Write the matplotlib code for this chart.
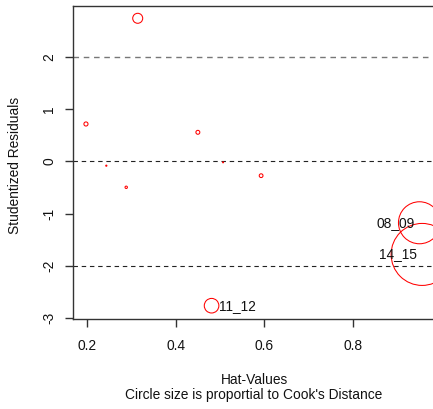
import matplotlib
matplotlib.use("Agg")
import matplotlib.pyplot as plt
import numpy as np

plt.rcParams['font.family'] = ['Liberation Sans', 'DejaVu Sans']

# Influence measures per observation
obs_labels = ["", "", "", "", "", "", "", "11_12", "08_09", "14_15"]
hat_values = [0.314, 0.197, 0.243, 0.288, 0.450, 0.593, 0.507, 0.481, 0.951, 0.957]
stud_resid = [2.733, 0.713, -0.084, -0.497, 0.554, -0.275, -0.020, -2.760, -1.175, -1.780]
cooks_dist = [0.0507, 0.0085, 0.0007, 0.0029, 0.0078, 0.0072, 0.0005, 0.108, 0.895, 1.95]

x_ticks = [0.2, 0.4, 0.6, 0.8]
y_ticks = [-3, -2, -1, 0, 1, 2]
ref_lines = [-2, 0, 2]

W, H, DPI = 433, 409, 100
fig = plt.figure(figsize=(W / DPI, H / DPI), dpi=DPI)

# plot region in pixels (right edge runs just past the figure)
left_px, right_px, top_px, bottom_px = 73, 436, 6, 319.3
ax = fig.add_axes([left_px / W, 1 - bottom_px / H,
                   (right_px - left_px) / W, (bottom_px - top_px) / H])
ax.set_xlim(0.1677, 0.9884)
ax.set_ylim(-3.02, 2.968)

for sp in ax.spines.values():
    sp.set_color('#333333')
    sp.set_linewidth(1.0)

# reference lines
for yv in ref_lines:
    col = '#777777' if yv == 2 else '#222222'
    lw = 1.0 if yv == 2 else 0.8
    ax.axhline(yv, color=col, lw=lw, dashes=(4, 3.4), zorder=1)

# circle area proportional to Cook's distance (radius ~ sqrt)
cooks = np.array(cooks_dist)
max_r_px = 31.0
radius_px = max_r_px * np.sqrt(cooks / cooks.max())
sizes = (2 * radius_px * 72 / DPI) ** 2
ax.scatter(hat_values, stud_resid, s=sizes, facecolors='none',
           edgecolors='#ff0000', linewidths=0.75, zorder=3, clip_on=True)

# point labels
for lab, hx, ry, r in zip(obs_labels, hat_values, stud_resid, radius_px):
    if not lab:
        continue
    if hx > 0.9:
        off = -5.0 if lab == "14_15" else -4.5
        ax.annotate(lab, (hx, ry), xytext=(off * 72 / DPI, 0),
                    textcoords='offset points', ha='right', va='center',
                    fontsize=9.9, color='#111111', zorder=4)
    else:
        ax.annotate(lab, (hx, ry), xytext=(7.3 * 72 / DPI, 0),
                    textcoords='offset points', ha='left', va='center',
                    fontsize=9.9, color='#111111', zorder=4)

ax.set_xticks(x_ticks)
ax.set_xticklabels([f"{v:.1f}" for v in x_ticks])
ax.set_yticks(y_ticks)
ax.set_yticklabels([str(v) for v in y_ticks], rotation=90, va='center')
ax.tick_params(axis='both', direction='out', length=5.6, width=1.0,
               color='#333333', labelsize=9.9, labelcolor='#111111')
ax.tick_params(axis='x', pad=8.6)
ax.tick_params(axis='y', pad=6.3)

fig.text(254.2 / W, 1 - 384.3 / H, "Hat-Values", ha='center', va='baseline',
         fontsize=9.9, color='#111111')
fig.text(253.8 / W, 1 - 399.5 / H, "Circle size is proportial to Cook's Distance",
         ha='center', va='baseline', fontsize=9.9, color='#111111')
fig.text(15.2 / W, 1 - 165.8 / H, "Studentized Residuals", rotation=90,
         ha='center', va='center', fontsize=9.9, color='#111111')

fig.savefig("out.png", dpi=DPI)
